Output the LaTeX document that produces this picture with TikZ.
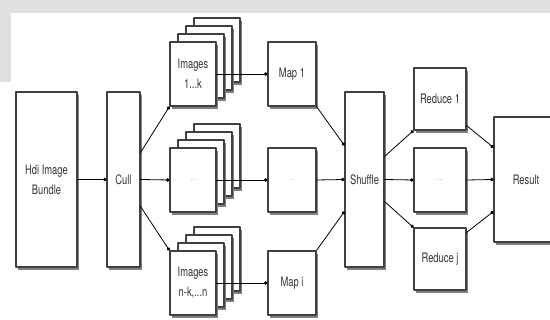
\documentclass[tikz,border=0pt]{standalone}
\usepackage{fontspec}
\setsansfont{TeX Gyre Heros}[FakeStretch=0.72]
\usetikzlibrary{arrows.meta}

\begin{document}
\begin{tikzpicture}[line cap=round,line join=round,>={Circle[length=3.5pt]},x=1pt,y=-1pt,
  box/.style={draw=black!75,line width=1.1pt,fill=white,inner sep=0pt,align=center,
    font=\sffamily\fontsize{13}{20}\selectfont,text=black!80,
    preaction={fill=black!50,transform canvas={xshift=1.5pt,yshift=-3.5pt}}},
  card/.style={box,minimum width=46pt,minimum height=64pt},
  dots/.style={font=\sffamily\fontsize{7}{8}\selectfont,text=black!40},
  link/.style={->,line width=0.8pt}]
\useasboundingbox (0,0) rectangle (550,320);
% faint watermark border
\fill[black!12] (0,0) rectangle (550,13);
\fill[black!12] (0,13) rectangle (11,82);

\node[box,minimum width=61pt,minimum height=175pt] (hdi) at (46.5,179.5) {Hdi Image\\Bundle};
\node[box,minimum width=33pt,minimum height=175pt] (cull) at (123.5,179.5) {Cull};

% stacks of images
\foreach \n/\y in {A/74,B/180,C/283}{
  \foreach \k in {3,2,1}
    \node[card,xshift=8*\k pt,yshift=8*\k pt] (img\n-\k) at (193,\y) {};
}
\node[card] (imgA) at (193,74) {Images\\1...k};
\node[card,dots] (imgB) at (193,180) {...};
\node[card] (imgC) at (193,283) {Images\\n-k,...n};

\node[box,minimum width=48pt,minimum height=64pt] (mapA) at (292,74) {Map 1};
\node[box,dots,minimum width=48pt,minimum height=64pt] (mapB) at (292,180) {...};
\node[box,minimum width=48pt,minimum height=64pt] (mapC) at (292,283) {Map i};

\node[box,minimum width=39pt,minimum height=175pt] (shuffle) at (364.5,179.5) {Shuffle};

\node[box,minimum width=52pt,minimum height=62pt] (redA) at (440,99) {Reduce 1};
\node[box,dots,minimum width=52pt,minimum height=64pt] (redB) at (440,180) {....};
\node[box,minimum width=52pt,minimum height=62pt] (redC) at (440,259) {Reduce j};

\node[box,minimum width=72pt,minimum height=125pt] (result) at (530,179.5) {\hspace*{-8pt}Result};

\draw[link] (hdi.east) -- (cull.west);
\draw[link] ([yshift=27pt]cull.east) -- (imgA.south west);
\draw[link] (cull.east) -- (imgB.west);
\draw[link] ([yshift=-27pt]cull.east) -- (imgC.north west);
\draw[link] (imgA.east) -- (mapA.west);
\draw[link] (imgB.east) -- (mapB.west);
\draw[link] (imgC.east) -- (mapC.west);
\draw[link] (mapA.south east) -- ([yshift=34pt]shuffle.west);
\draw[link] (mapB.east) -- (shuffle.west);
\draw[link] (mapC.north east) -- ([yshift=-32pt]shuffle.west);
\draw[link] ([yshift=23pt]shuffle.east) -- (redA.south west);
\draw[link] (shuffle.east) -- (redB.west);
\draw[link] ([yshift=-22pt]shuffle.east) -- (redC.north west);
\draw[link] ([yshift=5pt]redA.south east) -- ([yshift=32pt]result.west);
\draw[link] (redB.east) -- (result.west);
\draw[link] ([yshift=-5pt]redC.north east) -- ([yshift=-32pt]result.west);
\end{tikzpicture}
\end{document}
